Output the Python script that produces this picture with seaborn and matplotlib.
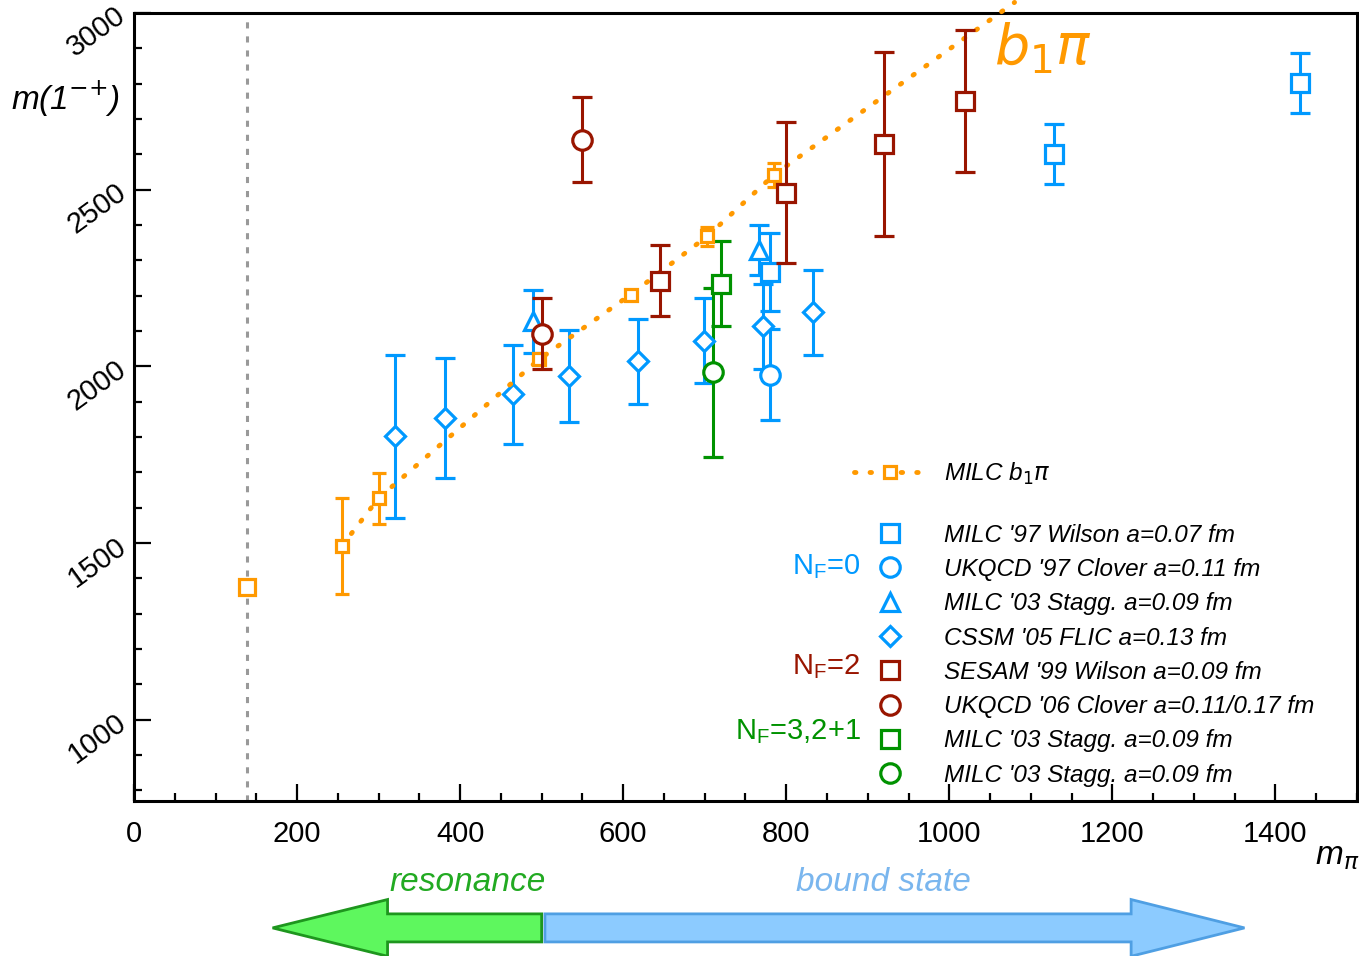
import matplotlib
matplotlib.use("Agg")
import matplotlib.pyplot as plt
import matplotlib.ticker as ticker
import matplotlib.transforms as mtransforms
from matplotlib.lines import Line2D
from matplotlib.patches import Polygon
import seaborn as sns

# MILC b1 pi threshold (orange), physical point separately
b1pi_mpi = [255, 300, 497, 609, 703, 785]
b1pi_m = [1492, 1627, 2020, 2203, 2368, 2542]
b1pi_err = [135, 72, 14, 0, 26, 34]
b1pi_tail_mpi = [785, 1080]
b1pi_tail_m = [2542, 3030]
phys_mpi = [139]
phys_m = [1375]

# N_F = 0 (blue)
wilson97_mpi = [780, 1129, 1430]
wilson97_m = [2268, 2602, 2802]
wilson97_err = [110, 85, 85]
clover97_mpi = [780]
clover97_m = [1977]
clover97_err = [130]
stagg03_mpi = [490, 766]
stagg03_m = [2127, 2330]
stagg03_err = [90, 70]
flic05_mpi = [320, 381, 465, 533, 618, 699, 771, 833]
flic05_m = [1802, 1853, 1921, 1972, 2014, 2073, 2113, 2153]
flic05_err = [230, 170, 140, 130, 120, 120, 120, 120]

# N_F = 2 (dark red)
sesam99_mpi = [645, 800, 920, 1019]
sesam99_m = [2243, 2492, 2630, 2751]
sesam99_err = [100, 200, 260, 200]
clover06_mpi = [500, 550]
clover06_m = [2093, 2641]
clover06_err = [100, 120]

# N_F = 3, 2+1 (green)
staggdyn_sq_mpi = [720]
staggdyn_sq_m = [2234]
staggdyn_sq_err = [120]
staggdyn_ci_mpi = [710]
staggdyn_ci_m = [1983]
staggdyn_ci_err = [240]

ORANGE = "#ff9900"
BLUE = "#0099ff"
RED = "#991500"
GREEN = "#009200"

sns.set_theme(style="ticks")
plt.rcParams["font.family"] = ["Liberation Sans", "DejaVu Sans"]
plt.rcParams["mathtext.fontset"] = "dejavusans"

fig = plt.figure(figsize=(13.59, 9.56), dpi=100)
ax = fig.add_axes([0.0986, 0.1621, 0.8999, 0.8243])


def points(x, y, err, color, marker, ms, cap=7, z=3):
    ax.errorbar(x, y, yerr=err, fmt=marker, color=color, mfc="white", mec=color,
                mew=2.3, ms=ms, elinewidth=2.2, capsize=cap, capthick=2.2, zorder=z)


ax.axvline(phys_mpi[0], color="#999999", ls=(0, (2, 2.6)), lw=2.2, zorder=1)

# blue, quenched
points(flic05_mpi, flic05_m, flic05_err, BLUE, "D", 10.5)
points(stagg03_mpi, stagg03_m, stagg03_err, BLUE, "^", 13)
points(wilson97_mpi, wilson97_m, wilson97_err, BLUE, "s", 12.5)
points(clover97_mpi, clover97_m, clover97_err, BLUE, "o", 14)

# green, dynamical 2+1
points(staggdyn_sq_mpi, staggdyn_sq_m, staggdyn_sq_err, GREEN, "s", 12.5)
points(staggdyn_ci_mpi, staggdyn_ci_m, staggdyn_ci_err, GREEN, "o", 14)

# orange b1 pi curve
DOTS = (0, (0.3, 2.9))
dots = dict(color=ORANGE, lw=3.5, dash_capstyle="round")
sns.lineplot(x=b1pi_mpi, y=b1pi_m, sort=False, estimator=None, ax=ax,
             ls=DOTS, zorder=4, **dots)
sns.lineplot(x=b1pi_tail_mpi, y=b1pi_tail_m, sort=False, estimator=None, ax=ax,
             ls=DOTS, zorder=4, clip_on=False, **dots)
points(b1pi_mpi, b1pi_m, b1pi_err, ORANGE, "s", 8.5, cap=5, z=4)
points(phys_mpi, phys_m, None, ORANGE, "s", 11.5, z=4)

# dark red, N_F = 2
points(sesam99_mpi, sesam99_m, sesam99_err, RED, "s", 12.5, z=5)
points(clover06_mpi, clover06_m, clover06_err, RED, "o", 14, z=5)

ax.set_xlim(0, 1500)
ax.set_ylim(770, 3000)
ax.xaxis.set_major_locator(ticker.MultipleLocator(200))
ax.xaxis.set_minor_locator(ticker.MultipleLocator(50))
ax.yaxis.set_major_locator(ticker.MultipleLocator(500))
ax.yaxis.set_minor_locator(ticker.MultipleLocator(100))
ax.tick_params(which="both", direction="in", color="black", width=1.6,
               labelcolor="black")
ax.tick_params(which="major", length=12)
ax.tick_params(which="minor", length=5.5)
ax.tick_params(axis="x", labelsize=21, pad=14)
ax.tick_params(axis="y", labelsize=21, pad=8)
for lab in ax.get_yticklabels():
    lab.set_rotation(36)
    lab.set_rotation_mode("anchor")
    lab.set_ha("right")
    lab.set_va("center")
for side in ["left", "bottom", "top", "right"]:
    ax.spines[side].set_linewidth(2.2)
    ax.spines[side].set_color("black")
ax.set_xlabel("")
ax.set_ylabel("")

ax.text(-0.056, 0.89, "m(1$^{{-}{+}}$)", transform=ax.transAxes, fontsize=24,
        style="italic", ha="center", va="center", color="black")
ax.text(0.984, -0.07, r"m$_\pi$", transform=ax.transAxes, fontsize=24,
        style="italic", ha="center", va="center", color="black")
ax.text(0.703, 0.955, r"$b_1\pi$", transform=ax.transAxes, fontsize=40,
        color=ORANGE, ha="left", va="center")

# legends: the b1 pi curve on its own, then the lattice results
leg_kw = dict(loc="upper left", frameon=False, borderpad=0, borderaxespad=0,
              handlelength=2.9, handletextpad=0.8, labelspacing=0.465,
              prop=dict(size=17.5, style="italic"))
curve_handle = Line2D([], [], color=ORANGE, ls=DOTS, lw=3.5, dash_capstyle="round",
                      marker="s", ms=8.5, mfc="white", mew=2.3)
leg1 = ax.legend([curve_handle], [r"MILC b$_1\pi$"], bbox_to_anchor=(0.589, 0.432),
                 **leg_kw)
ax.add_artist(leg1)

mk = dict(ls="none", mfc="white", mew=2.3)
handles = [
    Line2D([], [], color=BLUE, marker="s", ms=12.5, **mk),
    Line2D([], [], color=BLUE, marker="o", ms=14, **mk),
    Line2D([], [], color=BLUE, marker="^", ms=13, **mk),
    Line2D([], [], color=BLUE, marker="D", ms=10.5, **mk),
    Line2D([], [], color=RED, marker="s", ms=12.5, **mk),
    Line2D([], [], color=RED, marker="o", ms=14, **mk),
    Line2D([], [], color=GREEN, marker="s", ms=12.5, **mk),
    Line2D([], [], color=GREEN, marker="o", ms=14, **mk),
]
labels = [
    "MILC '97 Wilson a=0.07 fm",
    "UKQCD '97 Clover a=0.11 fm",
    "MILC '03 Stagg. a=0.09 fm",
    "CSSM '05 FLIC a=0.13 fm",
    "SESAM '99 Wilson a=0.09 fm",
    "UKQCD '06 Clover a=0.11/0.17 fm",
    "MILC '03 Stagg. a=0.09 fm",
    "MILC '03 Stagg. a=0.09 fm",
]
leg2 = ax.legend(handles, labels, bbox_to_anchor=(0.589, 0.352), **leg_kw)
for leg in (leg1, leg2):
    for t in leg.get_texts():
        t.set_color("black")

nf = [("N$\\mathregular{_F}$=0", 0.298, BLUE),
      ("N$\\mathregular{_F}$=2", 0.170, RED),
      ("N$\\mathregular{_F}$=3,2+1", 0.0876, GREEN)]
for txt, yy, col in nf:
    ax.text(0.594, yy, txt, transform=ax.transAxes, fontsize=21, color=col,
            ha="right", va="center")

# resonance / bound state arrows below the axis
tr = mtransforms.blended_transform_factory(ax.transData, ax.transAxes)
yc, hb, hh = -0.161, 0.0178, 0.036
green_arrow = [(500, yc - hb), (311, yc - hb), (311, yc - hh), (170, yc),
               (311, yc + hh), (311, yc + hb), (500, yc + hb)]
blue_arrow = [(504, yc - hb), (1223, yc - hb), (1223, yc - hh), (1362, yc),
              (1223, yc + hh), (1223, yc + hb), (504, yc + hb)]
ax.add_patch(Polygon(green_arrow, closed=True, transform=tr, clip_on=False,
                     fc="#5ef75e", ec="#1e961e", lw=2))
ax.add_patch(Polygon(blue_arrow, closed=True, transform=tr, clip_on=False,
                     fc="#8ccbff", ec="#4f9fe3", lw=2))
ax.text(409, -0.104, "resonance", transform=tr, fontsize=24, style="italic",
        color="#22aa22", ha="center", va="center")
ax.text(919, -0.104, "bound state", transform=tr, fontsize=24, style="italic",
        color="#7ab6ee", ha="center", va="center")

fig.savefig("out.png", dpi=100)
